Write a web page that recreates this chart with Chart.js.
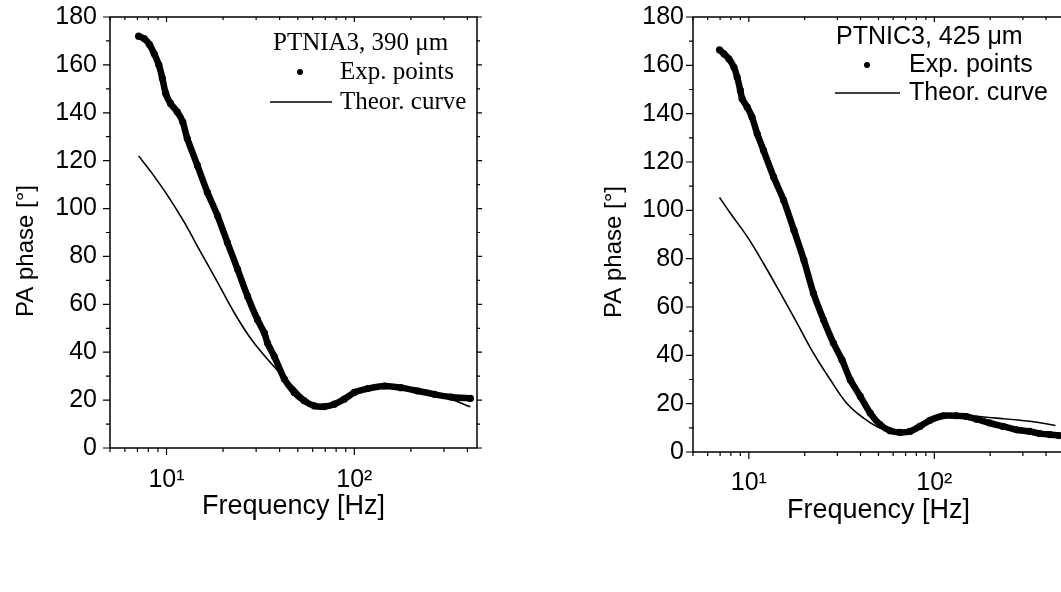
<!DOCTYPE html>
<html><head><meta charset="utf-8">
<script src="https://cdn.jsdelivr.net/npm/chart.js@4.4.0/dist/chart.umd.min.js"></script>
<style>
html,body{margin:0;padding:0;background:#fff;overflow:hidden;width:1061px;height:592px;position:relative;}
#c1{position:absolute;left:0;top:0;}
#c2{position:absolute;left:530px;top:0;}
</style></head><body>
<canvas id="c1" width="530" height="592"></canvas>
<canvas id="c2" width="560" height="592"></canvas>
<script>
// ---- Data: PTNIA3 (left panel) ----
const freqA = [7.1, 7.6, 8.1, 8.6, 9.1, 9.5, 9.9, 10.5, 11.4, 12.2, 12.9, 14.6, 16.5, 18.7, 21.1, 23.9, 27.0, 30.5, 33.2, 34.5, 37.5, 42.4, 47.9, 54.1, 61.2, 69.2, 78.2, 88.4, 100, 118, 145, 177, 218, 267, 327, 415];
const expA  = [172, 171, 168.6, 164.6, 160, 154.4, 148.1, 143.9, 140.4, 136.2, 129.2, 118.0, 106.8, 97.0, 85.8, 74.6, 63.4, 53.6, 48, 43.8, 38.2, 28.8, 23.2, 19.7, 17.6, 17.3, 18.3, 20.4, 23.2, 24.8, 25.9, 25.2, 23.8, 22.4, 21.3, 20.7];
const theoFreqA = [7.1, 8.25, 10.1, 12.4, 15.2, 18.7, 22.9, 28.2, 34.5, 42.4, 47.9, 54.1, 61.2, 69.2, 78.2, 100, 145, 217, 327, 415];
const theoA     = [122, 115.4, 105.6, 94.4, 81.8, 69.2, 56.6, 45.5, 37.1, 29.4, 25.2, 21, 18.2, 17.2, 18.2, 22.4, 25.6, 23.4, 20.3, 17.2];

// ---- Data: PTNIC3 (right panel) ----
const freqC = [6.95, 7.34, 7.8, 8.3, 8.65, 9.0, 9.2, 9.8, 10.4, 11.1, 12.0, 13.6, 15.4, 17.5, 19.8, 22.3, 25.3, 28.6, 31.8, 35.2, 39.9, 45.1, 51, 57.7, 65.3, 73.9, 83.6, 94.6, 111.5, 131.4, 148.8, 168.5, 198.8, 234.5, 276.7, 326.5, 370, 418.7, 470];
const expC  = [166.4, 164.8, 162.7, 159.3, 155.1, 149.6, 146.2, 142.7, 138.6, 131.7, 124.8, 113.8, 104.2, 91.8, 79.4, 65.7, 54.6, 45, 38.1, 29.9, 23, 16.1, 11.3, 8.8, 8.1, 8.5, 10.6, 13.1, 15, 15, 14.7, 13.6, 12, 10.6, 9.2, 8.5, 7.6, 7.2, 6.8];
const theoFreqC = [6.95, 7.97, 9.8, 12.0, 14.8, 18.2, 22.3, 27.5, 33.7, 41.6, 51, 62.6, 77, 94.6, 116.5, 143.4, 216, 326, 450];
const theoC     = [105.3, 98.7, 89.1, 78, 65.7, 53.3, 40.9, 29.9, 20.2, 14, 9.9, 8.1, 9.2, 12.3, 14.3, 15, 14, 12.7, 11];

// ---- Ticks & labels ----
const yMajorTicks = [0, 20, 40, 60, 80, 100, 120, 140, 160, 180];
const yMinorTicks = [10, 30, 50, 70, 90, 110, 130, 150, 170];
const xMajorTicks = [10, 100];
const xTickLabels = ['10\u00B9', '10\u00B2'];
const xMinorTicks = [5, 6, 7, 8, 9, 20, 30, 40, 50, 60, 70, 80, 90, 200, 300, 400];
const panelTitles = ['PTNIA3, 390 \u03BCm', 'PTNIC3, 425 \u03BCm'];
const seriesLabels = ['Exp. points', 'Theor. curve'];
const xTitle = 'Frequency [Hz]';
const yTitle = 'PA phase [\u00B0]';

function pts(xs, ys) { return xs.map((x, i) => ({x: x, y: ys[i]})); }

const framePlugin = {
  id: 'frameTicks',
  afterDraw(chart, args, o) {
    const ctx = chart.ctx;
    const {left, right, top, bottom} = chart.chartArea;
    const xs = chart.scales.x, ys = chart.scales.y;
    ctx.save();
    ctx.strokeStyle = '#000';
    ctx.lineWidth = 1.5;
    ctx.strokeRect(left, top, right - left, bottom - top);
    ctx.lineWidth = 1.2;
    ctx.beginPath();
    yMajorTicks.forEach(v => { const p = ys.getPixelForValue(v);
      ctx.moveTo(left - 7, p); ctx.lineTo(left, p); ctx.moveTo(right, p); ctx.lineTo(right + 5, p); });
    yMinorTicks.forEach(v => { const p = ys.getPixelForValue(v);
      ctx.moveTo(left - 4, p); ctx.lineTo(left, p); ctx.moveTo(right, p); ctx.lineTo(right + 3, p); });
    xMajorTicks.forEach(v => { const p = xs.getPixelForValue(v);
      ctx.moveTo(p, bottom); ctx.lineTo(p, bottom + 7); ctx.moveTo(p, top); ctx.lineTo(p, top + 5); });
    xMinorTicks.forEach(v => { const p = xs.getPixelForValue(v);
      if (p < left - 0.5 || p > right + 0.5) return;
      ctx.moveTo(p, bottom); ctx.lineTo(p, bottom + 4); ctx.moveTo(p, top); ctx.lineTo(p, top + 3); });
    ctx.stroke();

    ctx.fillStyle = '#000';
    // y-axis title
    ctx.save();
    ctx.translate(o.yTitle.x, o.yTitle.y);
    ctx.rotate(-Math.PI / 2);
    ctx.textAlign = 'center';
    ctx.textBaseline = 'middle';
    ctx.font = '24px "Liberation Sans", Arial, sans-serif';
    ctx.fillText(yTitle, 0, 0);
    ctx.restore();

    // legend block
    const L = o.legend;
    ctx.textBaseline = 'middle';
    ctx.textAlign = 'left';
    ctx.font = L.font;
    ctx.fillText(L.title, L.titleX, L.rowY[0]);
    ctx.fillText(chart.data.datasets[0].label, L.textX, L.rowY[1]);
    ctx.fillText(chart.data.datasets[1].label, L.textX, L.rowY[2]);
    ctx.beginPath();
    ctx.arc(L.dotX, L.rowY[1], 3, 0, Math.PI * 2);
    ctx.fill();
    ctx.lineWidth = 1.6;
    ctx.beginPath();
    ctx.moveTo(L.lineX1, L.rowY[2]); ctx.lineTo(L.lineX2, L.rowY[2]);
    ctx.stroke();
    ctx.restore();
  }
};

function makeChart(id, expF, expV, thF, thV, cfg) {
  return new Chart(document.getElementById(id), {
    type: 'scatter',
    data: {
      datasets: [
        { label: seriesLabels[0], data: pts(expF, expV), showLine: true,
          borderColor: '#000', backgroundColor: '#000', borderWidth: 6.5,
          pointRadius: 3.6, pointBorderWidth: 0, pointBackgroundColor: '#000', tension: 0.2 },
        { label: seriesLabels[1], data: pts(thF, thV), showLine: true,
          borderColor: '#000', borderWidth: 1.6, pointRadius: 0, tension: 0.4 }
      ]
    },
    plugins: [framePlugin],
    options: {
      responsive: false, animation: false, devicePixelRatio: 1,
      layout: { padding: cfg.padding },
      plugins: { legend: { display: false }, tooltip: { enabled: false },
        frameTicks: { legend: cfg.legend, yTitle: cfg.yTitle } },
      scales: {
        x: {
          type: 'logarithmic', min: 5, max: cfg.xmax,
          grid: { display: false, drawTicks: false, tickLength: 0 }, border: { display: false },
          afterBuildTicks: s => { s.ticks = xMajorTicks.map(v => ({ value: v, major: true })); },
          afterFit: s => { s.height = cfg.xHeight; s.paddingLeft = 0; s.paddingRight = 0; },
          ticks: { autoSkip: false, maxRotation: 0, padding: cfg.xTickPad, color: '#000',
            font: { family: 'Liberation Sans, Arial', size: 25 },
            callback: (v, i) => xTickLabels[i] },
          title: { display: true, text: xTitle, color: '#000',
            font: { family: 'Liberation Sans, Arial', size: 27 }, padding: { top: 0, bottom: cfg.xTitlePad } }
        },
        y: {
          min: 0, max: 180,
          grid: { display: false, drawTicks: false, tickLength: 0 }, border: { display: false },
          afterBuildTicks: s => { s.ticks = yMajorTicks.map(v => ({ value: v })); },
          afterFit: s => { s.width = cfg.yWidth; s.paddingTop = 0; s.paddingBottom = 0; },
          ticks: { padding: cfg.yTickPad, color: '#000',
            font: { family: 'Liberation Sans, Arial', size: 25 },
            callback: v => String(v) },
          title: { display: false }
        }
      }
    }
  });
}

makeChart('c1', freqA, expA, theoFreqA, theoA, {
  padding: { left: 0, top: 17, right: 53, bottom: 0 },
  xmax: 450, xHeight: 144, yWidth: 110,
  xTickPad: 17, xTitlePad: 69, yTickPad: 13,
  yTitle: { x: 26, y: 251 },
  legend: { font: '25px "Liberation Serif", "Times New Roman", serif', title: panelTitles[0],
    titleX: 273, textX: 340, dotX: 300, lineX1: 270, lineX2: 332, rowY: [43, 72, 102] }
});

makeChart('c2', freqC, expC, theoFreqC, theoC, {
  padding: { left: 0, top: 17, right: 26, bottom: 0 },
  xmax: 500, xHeight: 140, yWidth: 163,
  xTickPad: 16, xTitlePad: 65, yTickPad: 9,
  yTitle: { x: 84, y: 252 },
  legend: { font: '25px "Liberation Sans", Arial, sans-serif', title: panelTitles[1],
    titleX: 306, textX: 379, dotX: 337, lineX1: 305, lineX2: 370, rowY: [37, 65, 93] }
});
</script>
</body></html>
